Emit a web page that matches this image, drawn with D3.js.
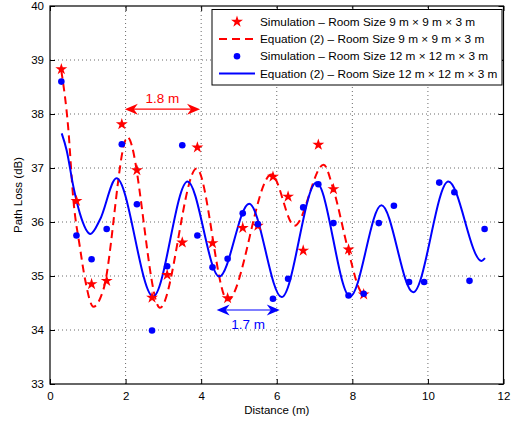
<!DOCTYPE html>
<html lang="en">
<head>
<meta charset="UTF-8">
<title>Path loss vs distance</title>
<script src="https://d3js.org/d3.v7.min.js"></script>
<style>
  body { margin: 0; background: #fff; }
  text { font-family: "Liberation Sans", Arial, Helvetica, sans-serif; }
</style>
</head>
<body>
<svg width="520" height="422"></svg>
<script>
// simulated points, 9 m room
const sim9X = [0.3, 0.7, 1.1, 1.5, 1.9, 2.3, 2.7, 3.1, 3.5, 3.9, 4.3, 4.7, 5.1, 5.5, 5.9, 6.3, 6.7, 7.1, 7.5, 7.9, 8.3];
const sim9Y = [38.83, 36.39, 34.85, 34.91, 37.81, 36.96, 34.60, 35.02, 35.62, 37.38, 35.61, 34.59, 35.89, 35.93, 36.84, 36.47, 35.47, 37.43, 36.61, 35.49, 34.66];

// simulated points, 12 m room
const sim12X = [0.3, 0.7, 1.1, 1.5, 1.9, 2.3, 2.7, 3.1, 3.5, 3.9, 4.3, 4.7, 5.1, 5.5, 5.9, 6.3, 6.7, 7.1, 7.5, 7.9, 8.3, 8.7, 9.1, 9.5, 9.9, 10.3, 10.7, 11.1, 11.5];
const sim12Y = [38.60, 35.75, 35.31, 35.87, 37.44, 36.33, 33.99, 35.18, 37.42, 35.75, 35.16, 35.32, 36.16, 35.96, 34.58, 34.95, 36.27, 36.70, 35.98, 34.64, 34.67, 35.98, 36.30, 34.89, 34.89, 36.73, 36.55, 34.91, 35.87];

// equation (2) curve, 9 m room
const eq9X = [0.3, 0.48, 0.62, 0.79, 0.93, 1.15, 1.41, 2.05, 2.91, 3.88, 4.70, 5.86, 6.47, 7.24, 7.50, 7.89, 8.16, 8.30];
const eq9Y = [38.80, 37.76, 36.40, 35.54, 34.93, 34.43, 34.74, 37.57, 34.41, 36.99, 34.55, 36.88, 35.93, 37.06, 36.60, 35.48, 34.80, 34.62];

// equation (2) curve, 12 m room
const eq12X = [0.31, 0.44, 0.62, 0.79, 1.07, 1.32, 1.76, 2.73, 3.64, 4.48, 5.27, 6.13, 7.05, 7.94, 8.77, 9.61, 10.54, 11.42, 11.51];
const eq12Y = [37.64, 37.33, 36.65, 36.16, 35.78, 36.04, 36.81, 34.62, 36.75, 34.99, 36.34, 34.61, 36.73, 34.62, 36.31, 34.70, 36.75, 35.28, 35.33];

const xTicks = [0, 2, 4, 6, 8, 10, 12];
const yTicks = [33, 34, 35, 36, 37, 38, 39, 40];

const legendLabels = [
  "Simulation \u2013 Room Size 9 m \u00d7 9 m \u00d7 3 m",
  "Equation (2) \u2013 Room Size 9 m \u00d7 9 m \u00d7 3 m",
  "Simulation \u2013 Room Size 12 m \u00d7 12 m \u00d7 3 m",
  "Equation (2) \u2013 Room Size 12 m \u00d7 12 m \u00d7 3 m"
];

// spacing annotations
const spanLabels = ["1.8 m", "1.7 m"];
const spanX0 = [1.98, 4.41];
const spanX1 = [3.97, 6.08];
const spanY = [38.09, 34.37];

const RED = "#ff0000", BLUE = "#0000ff";

const svg = d3.select("svg");
const x = d3.scaleLinear().domain([0, 12]).range([50, 503.5]);
const y = d3.scaleLinear().domain([33, 40]).range([384, 6]);

// grid
const grid = svg.append("g").attr("stroke", "#444").attr("stroke-width", 0.8).attr("stroke-dasharray", "1,3");
grid.selectAll(".gx").data(xTicks.slice(1, -1)).enter().append("line")
  .attr("x1", d => x(d)).attr("x2", d => x(d)).attr("y1", y(33)).attr("y2", y(40));
grid.selectAll(".gy").data(yTicks.slice(1, -1)).enter().append("line")
  .attr("y1", d => y(d)).attr("y2", d => y(d)).attr("x1", x(0)).attr("x2", x(12));

// axes with inward ticks on all sides
const fmt = d3.format("d");
const xb = svg.append("g").attr("transform", `translate(0,${y(33)})`)
  .call(d3.axisBottom(x).tickValues(xTicks).tickFormat(fmt).tickSizeInner(-5).tickSizeOuter(0).tickPadding(8));
const xt = svg.append("g").attr("transform", `translate(0,${y(40)})`)
  .call(d3.axisTop(x).tickValues(xTicks).tickSizeInner(-5).tickSizeOuter(0).tickFormat(""));
const yl = svg.append("g").attr("transform", `translate(${x(0)},0)`)
  .call(d3.axisLeft(y).tickValues(yTicks).tickFormat(fmt).tickSizeInner(-5).tickSizeOuter(0).tickPadding(6));
const yr = svg.append("g").attr("transform", `translate(${x(12)},0)`)
  .call(d3.axisRight(y).tickValues(yTicks).tickSizeInner(-5).tickSizeOuter(0).tickFormat(""));
[xb, xt, yl, yr].forEach(g => {
  g.select(".domain").remove();
  g.selectAll("text").attr("font-size", 11.5).attr("fill", "#000").attr("font-family", "Liberation Sans, Arial, sans-serif");
  g.selectAll("line").attr("stroke", "#000");
});

// curves
const clean = (xs, ys) => xs.map((v, i) => ({ x: v, y: ys[i] }));
const line = d3.line().x(d => x(d.x)).y(d => y(d.y)).curve(d3.curveMonotoneX);

svg.append("path").attr("d", line(clean(eq9X, eq9Y)))
  .attr("fill", "none").attr("stroke", RED).attr("stroke-width", 2).attr("stroke-dasharray", "8,5");
svg.append("path").attr("d", line(clean(eq12X, eq12Y)))
  .attr("fill", "none").attr("stroke", BLUE).attr("stroke-width", 2);

// markers
const star = d3.symbol().type(d3.symbolStar).size(44);
svg.append("g").selectAll("path").data(clean(sim9X, sim9Y)).enter().append("path")
  .attr("d", star).attr("transform", d => `translate(${x(d.x)},${y(d.y)})`)
  .attr("fill", RED);
svg.append("g").selectAll("circle").data(clean(sim12X, sim12Y)).enter().append("circle")
  .attr("cx", d => x(d.x)).attr("cy", d => y(d.y)).attr("r", 3.3).attr("fill", BLUE);

// double arrows
function arrowHead(px, py, dir) {
  // dir = +1 pointing right, -1 pointing left
  const L = 13, W = 5.5, back = 9;
  return `M${px},${py} L${px - dir * L},${py - W} L${px - dir * back},${py} L${px - dir * L},${py + W} Z`;
}
const spanColors = [RED, BLUE];
spanLabels.forEach((lab, i) => {
  const g = svg.append("g");
  const x0 = x(spanX0[i]), x1 = x(spanX1[i]), yy = y(spanY[i]);
  g.append("line").attr("x1", x0 + 5).attr("x2", x1 - 5).attr("y1", yy).attr("y2", yy)
    .attr("stroke", spanColors[i]).attr("stroke-width", 1.2);
  g.append("path").attr("d", arrowHead(x1, yy, 1)).attr("fill", spanColors[i]);
  g.append("path").attr("d", arrowHead(x0, yy, -1)).attr("fill", spanColors[i]);
  g.append("text").attr("x", (x0 + x1) / 2).attr("y", i === 0 ? yy - 6 : yy + 19)
    .attr("text-anchor", "middle").attr("font-size", 13.5).attr("fill", spanColors[i]).text(lab);
});

// legend
const lg = svg.append("g");
lg.append("rect").attr("x", 212).attr("y", 9.5).attr("width", 290).attr("height", 75.5)
  .attr("fill", "#fff").attr("stroke", "#000").attr("stroke-width", 1);
const rowY = [21.7, 38.9, 56.3, 73.5];
legendLabels.forEach((lab, i) => {
  const cy = rowY[i];
  if (i === 0) lg.append("path").attr("d", star).attr("transform", `translate(237,${cy})`).attr("fill", RED);
  if (i === 1) lg.append("line").attr("x1", 219).attr("x2", 255).attr("y1", cy).attr("y2", cy)
    .attr("stroke", RED).attr("stroke-width", 2).attr("stroke-dasharray", "8,5");
  if (i === 2) lg.append("circle").attr("cx", 237).attr("cy", cy).attr("r", 3.3).attr("fill", BLUE);
  if (i === 3) lg.append("line").attr("x1", 219).attr("x2", 255).attr("y1", cy).attr("y2", cy)
    .attr("stroke", BLUE).attr("stroke-width", 2);
  lg.append("text").attr("x", 260).attr("y", cy + 4).attr("font-size", 11.8).attr("fill", "#000").text(lab);
});

// frame
svg.append("rect").attr("x", x(0)).attr("y", y(40)).attr("width", x(12) - x(0)).attr("height", y(33) - y(40))
  .attr("fill", "none").attr("stroke", "#000").attr("stroke-width", 1.2);

// axis titles
svg.append("text").attr("x", (x(0) + x(12)) / 2).attr("y", 414).attr("text-anchor", "middle")
  .attr("font-size", 11.5).text("Distance (m)");
svg.append("text").attr("transform", `translate(22,${(y(33) + y(40)) / 2}) rotate(-90)`)
  .attr("text-anchor", "middle").attr("font-size", 11.5).text("Path Loss (dB)");
</script>
</body>
</html>
